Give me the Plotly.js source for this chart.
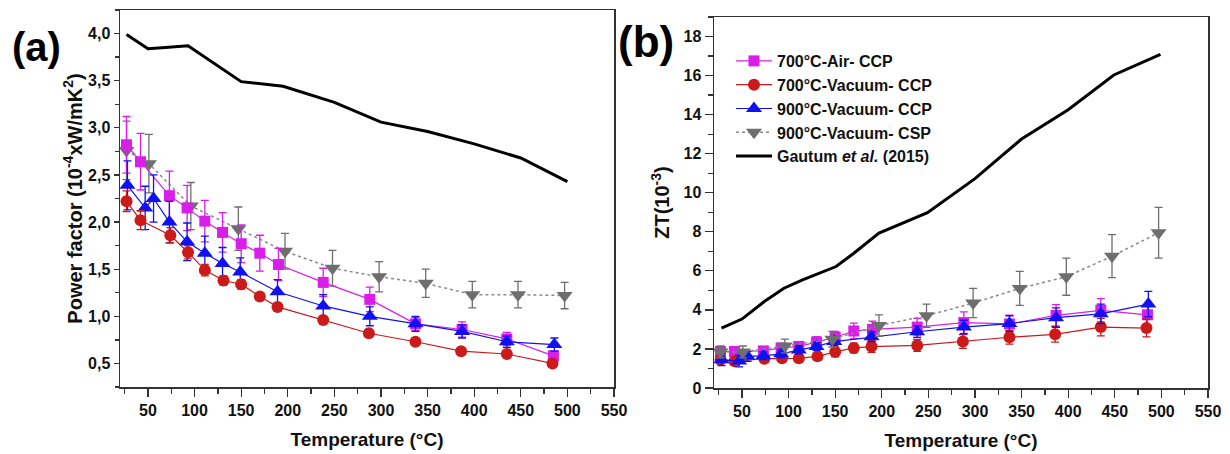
<!DOCTYPE html>
<html>
<head>
<meta charset="utf-8">
<script src="https://cdn.plot.ly/plotly-3.0.1.min.js"></script>
<style>html,body{margin:0;padding:0;background:#fff;}#chart{width:1230px;height:454px;}</style>
</head>
<body>
<div id="chart"></div>
<script>
// ---- data ----
const seriesNames = ['700°C-Air- CCP', '700°C-Vacuum- CCP', '900°C-Vacuum- CCP', '900°C-Vacuum- CSP', 'Gautum <i>et al.</i> (2015)'];

const T_air700 = [27, 42, 73, 92, 111, 130, 150, 170, 190, 238, 288, 337, 387, 435, 485];
const PF_air700 = [2.82, 2.64, 2.28, 2.15, 2.01, 1.89, 1.77, 1.67, 1.55, 1.36, 1.18, 0.92, 0.86, 0.76, 0.58];
const PF_air700_err = [0.30, 0.30, 0.26, 0.24, 0.22, 0.21, 0.20, 0.19, 0.17, 0.15, 0.13, 0.07, 0.08, 0.07, 0.05];
const ZT_air700 = [1.87, 1.87, 1.90, 2.05, 2.13, 2.35, 2.60, 2.92, 3.00, 3.12, 3.35, 3.28, 3.72, 3.98, 3.75];
const ZT_air700_err = [0.20, 0.20, 0.20, 0.22, 0.25, 0.28, 0.30, 0.40, 0.42, 0.45, 0.55, 0.45, 0.55, 0.60, 0.55];

const T_vac700 = [27, 42, 74, 93, 111, 131, 150, 170, 189, 238, 287, 337, 386, 435, 484];
const PF_vac700 = [2.22, 2.02, 1.86, 1.68, 1.49, 1.38, 1.34, 1.21, 1.10, 0.96, 0.82, 0.73, 0.63, 0.60, 0.50];
const PF_vac700_err = [0.11, 0.10, 0.08, 0.07, 0.06, 0.05, 0.05, 0.04, 0.04, 0.04, 0.03, 0.03, 0.03, 0.03, 0.03];
const ZT_vac700 = [1.45, 1.37, 1.50, 1.52, 1.52, 1.62, 1.85, 2.05, 2.12, 2.18, 2.38, 2.60, 2.75, 3.12, 3.07];
const ZT_vac700_err = [0.20, 0.20, 0.15, 0.15, 0.15, 0.20, 0.25, 0.25, 0.30, 0.30, 0.35, 0.35, 0.40, 0.45, 0.45];

const T_vac900 = [28, 47, 56, 73, 92, 111, 130, 149, 189, 238, 288, 337, 387, 435, 486];
const PF_vac900 = [2.39, 2.15, 2.25, 2.00, 1.79, 1.67, 1.56, 1.47, 1.26, 1.11, 1.00, 0.92, 0.84, 0.73, 0.70];
const PF_vac900_err = [0.26, 0.23, 0.25, 0.22, 0.20, 0.18, 0.17, 0.15, 0.13, 0.12, 0.10, 0.08, 0.07, 0.06, 0.07];
const ZT_vac900 = [1.45, 1.38, 1.62, 1.65, 1.75, 1.95, 2.13, 2.38, 2.62, 2.88, 3.12, 3.30, 3.60, 3.80, 4.30];
const ZT_vac900_err = [0.30, 0.30, 0.25, 0.20, 0.20, 0.20, 0.20, 0.20, 0.25, 0.30, 0.35, 0.40, 0.50, 0.50, 0.65];

const T_csp900 = [27, 51, 96, 147, 197, 248, 298, 348, 398, 447, 497];
const PF_csp900 = [2.76, 2.62, 2.17, 1.93, 1.69, 1.51, 1.42, 1.35, 1.23, 1.23, 1.22];
const PF_csp900_err = [0.31, 0.31, 0.25, 0.23, 0.19, 0.19, 0.16, 0.15, 0.14, 0.14, 0.14];
const ZT_csp900 = [1.85, 1.85, 2.15, 2.50, 3.20, 3.70, 4.35, 5.10, 5.70, 6.75, 7.95];
const ZT_csp900_err = [0.30, 0.30, 0.35, 0.40, 0.55, 0.60, 0.75, 0.87, 0.95, 1.10, 1.30];

const T_gautum_PF = [27, 50, 65, 93, 150, 195, 250, 300, 350, 400, 450, 500];
const PF_gautum = [3.99, 3.84, 3.85, 3.87, 3.49, 3.44, 3.27, 3.06, 2.96, 2.83, 2.68, 2.43];
const T_gautum_ZT = [28, 50, 74, 95, 115, 151, 170, 197, 249, 300, 350, 400, 449, 499];
const ZT_gautum = [3.07, 3.53, 4.43, 5.11, 5.54, 6.22, 6.90, 7.93, 8.98, 10.72, 12.75, 14.25, 16.03, 17.08];

// ---- styles ----
const C_MAG = '#d81ee8', C_RED = '#cc1a1a', C_BLUE = '#1010f0', C_GRAY = '#6e6e6e';

function sc(x, y, err, name, color, symbol, size, dash, xa, ya, showleg) {
  return {
    x: x, y: y, name: name, type: 'scatter', mode: 'lines+markers',
    xaxis: xa, yaxis: ya, showlegend: showleg,
    line: {color: dash ? '#8a8a8a' : color, width: dash ? 1.5 : 1.2, dash: dash || 'solid'},
    marker: {color: color, symbol: symbol, size: size, line: {width: 0}},
    error_y: {type: 'data', array: err, visible: true, color: color, thickness: 1.3, width: 4}
  };
}

const traces = [
  sc(T_csp900, PF_csp900, PF_csp900_err, seriesNames[3], C_GRAY, 'triangle-down', 14, 'dot', 'x', 'y', false),
  sc(T_air700, PF_air700, PF_air700_err, seriesNames[0], C_MAG, 'square', 11, null, 'x', 'y', false),
  sc(T_vac900, PF_vac900, PF_vac900_err, seriesNames[2], C_BLUE, 'triangle-up', 14, null, 'x', 'y', false),
  sc(T_vac700, PF_vac700, PF_vac700_err, seriesNames[1], C_RED, 'circle', 12, null, 'x', 'y', false),
  {x: T_gautum_PF, y: PF_gautum, name: seriesNames[4], type: 'scatter', mode: 'lines', xaxis: 'x', yaxis: 'y', showlegend: false,
   line: {color: '#000', width: 3}},

  sc(T_air700, ZT_air700, ZT_air700_err, seriesNames[0], C_MAG, 'square', 11, null, 'x2', 'y2', true),
  sc(T_vac700, ZT_vac700, ZT_vac700_err, seriesNames[1], C_RED, 'circle', 12, null, 'x2', 'y2', true),
  sc(T_vac900, ZT_vac900, ZT_vac900_err, seriesNames[2], C_BLUE, 'triangle-up', 14, null, 'x2', 'y2', true),
  sc(T_csp900, ZT_csp900, ZT_csp900_err, seriesNames[3], C_GRAY, 'triangle-down', 14, 'dot', 'x2', 'y2', true),
  {x: T_gautum_ZT, y: ZT_gautum, name: seriesNames[4], type: 'scatter', mode: 'lines', xaxis: 'x2', yaxis: 'y2', showlegend: true,
   line: {color: '#000', width: 3}}
];

const FONT = 'Arial, "Liberation Sans", sans-serif';
const tickF = {family: FONT, size: 16, color: '#111', weight: 'bold'};
const titleF = {family: FONT, size: 20, color: '#111', weight: 'bold'};

function xax(domain, anchor) {
  return {
    domain: domain, anchor: anchor, range: [20, 550], dtick: 50, tick0: 0,
    ticks: 'outside', ticklen: 8, tickwidth: 1.3, tickcolor: '#333',
    minor: {ticks: 'outside', ticklen: 5, dtick: 25, tickcolor: '#333', tickwidth: 1.3, showgrid: false},
    showline: true, linecolor: '#333', linewidth: 1.5, mirror: true, showgrid: false, zeroline: false,
    tickfont: tickF, automargin: false,
    title: {text: 'Temperature (°C)', font: {family: FONT, size: 19, color: '#111', weight: 'bold'}, standoff: 15}
  };
}

const layout = {
  width: 1230, height: 454,
  margin: {l: 0, r: 0, t: 0, b: 0},
  paper_bgcolor: '#fff', plot_bgcolor: '#fff',
  separators: ',.',
  showlegend: true,
  xaxis: xax([120/1230, 614/1230], 'y'),
  yaxis: {
    domain: [67/454, 444/454], anchor: 'x', range: [0.25, 4.25], dtick: 0.5, tick0: 0, tickformat: '.1f',
    ticks: 'outside', ticklen: 5, tickwidth: 1.3, tickcolor: '#333',
    minor: {ticks: 'outside', ticklen: 4, dtick: 0.25, tickcolor: '#333', tickwidth: 1.3, showgrid: false},
    showline: true, linecolor: '#333', linewidth: 1.5, mirror: true, showgrid: false, zeroline: false,
    tickfont: tickF, automargin: false,
    title: {text: 'Power factor (10<sup>-4</sup>xW/mK<sup>2</sup>)', font: titleF, standoff: 0}
  },
  xaxis2: xax([714/1230, 1208/1230], 'y2'),
  yaxis2: {
    domain: [66/454, 437/454], anchor: 'x2', range: [0, 19], dtick: 2, tick0: 0,
    ticks: 'outside', ticklen: 8, tickwidth: 1.3, tickcolor: '#333',
    minor: {ticks: 'outside', ticklen: 5, dtick: 1, tickcolor: '#333', tickwidth: 1.3, showgrid: false},
    showline: true, linecolor: '#333', linewidth: 1.5, mirror: true, showgrid: false, zeroline: false,
    tickfont: tickF, automargin: false,
    title: {text: 'ZT(10<sup>-3</sup>)', font: titleF, standoff: 8}
  },
  legend: {
    x: 731/1230, y: 1 - 44/454, xanchor: 'left', yanchor: 'top',
    bgcolor: 'rgba(0,0,0,0)', borderwidth: 0,
    font: {family: FONT, size: 16, color: '#111', weight: 'bold'},
    tracegroupgap: 0, itemwidth: 36
  },
  annotations: [
    {text: '(a)', x: 36/1230, y: 1 - 47/454, xref: 'paper', yref: 'paper', showarrow: false,
     xanchor: 'center', yanchor: 'middle', font: {family: FONT, size: 40, color: '#000', weight: 'bold'}},
    {text: '(b)', x: 646/1230, y: 1 - 41/454, xref: 'paper', yref: 'paper', showarrow: false,
     xanchor: 'center', yanchor: 'middle', font: {family: FONT, size: 44, color: '#000', weight: 'bold'}}
  ]
};

Plotly.newPlot('chart', traces, layout, {displayModeBar: false, staticPlot: true});
</script>
</body>
</html>
